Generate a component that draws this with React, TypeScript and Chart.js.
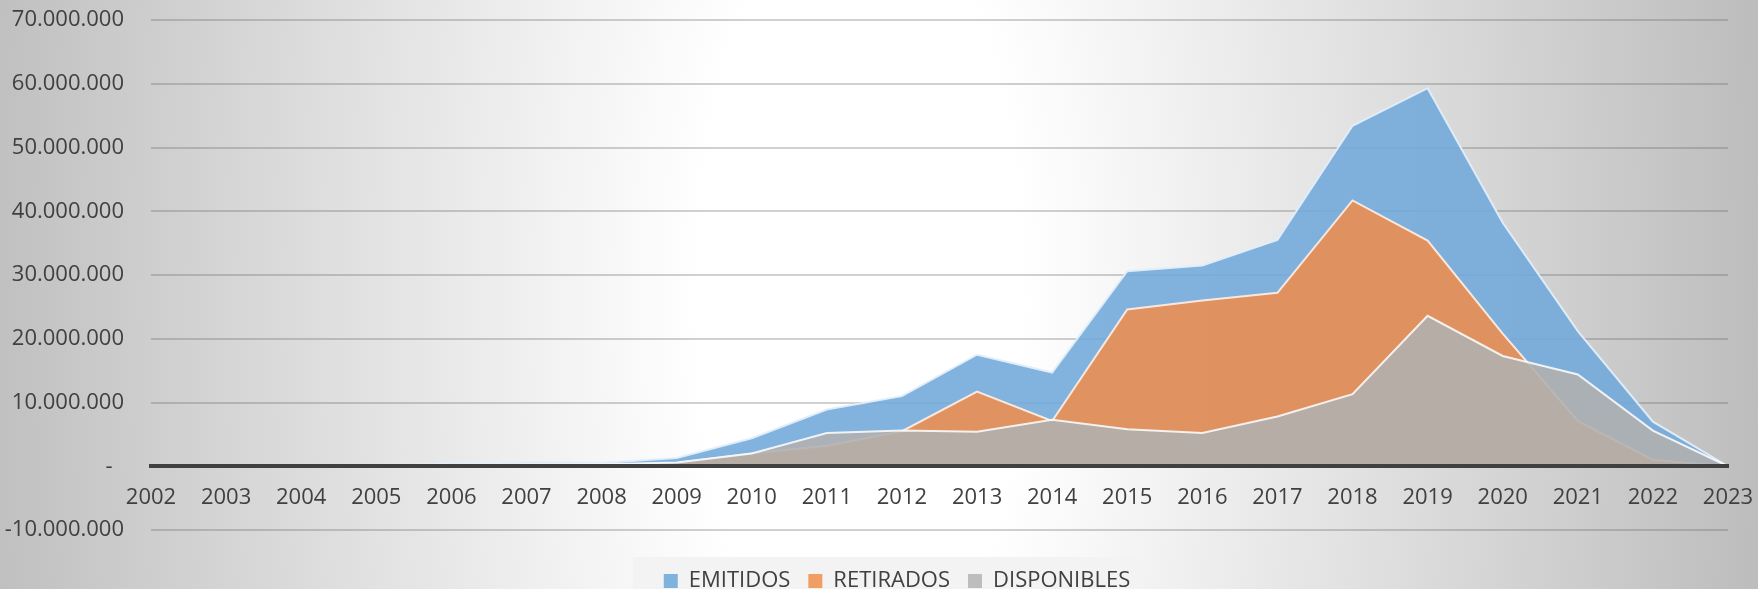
import React, { useEffect, useRef } from 'react';
import { Chart, registerables } from 'chart.js';

Chart.register(...registerables);

const years = ['2002', '2003', '2004', '2005', '2006', '2007', '2008', '2009', '2010', '2011', '2012', '2013', '2014', '2015', '2016', '2017', '2018', '2019', '2020', '2021', '2022', '2023'];

const emitidos = [0, 0, 0, 100000, 400000, 600000, 500000, 1300000, 4400000, 8900000, 11000000, 17500000, 14700000, 30600000, 31500000, 35500000, 53400000, 59300000, 38200000, 21200000, 7000000, 0];
const retirados = [0, 0, 0, 0, 100000, 200000, 200000, 500000, 2000000, 3200000, 5500000, 11700000, 7100000, 24600000, 26000000, 27200000, 41700000, 35400000, 20800000, 7100000, 1000000, 0];
const disponibles = [0, 0, 0, 0, 200000, 300000, 300000, 600000, 2000000, 5200000, 5600000, 5400000, 7300000, 5800000, 5200000, 7800000, 11300000, 23600000, 17300000, 14400000, 5600000, 0];

const seriesNames = ['EMITIDOS', 'RETIRADOS', 'DISPONIBLES'];
const yMin = -10000000;
const yMax = 70000000;
const yStep = 10000000;

const FONT = "'Open Sans', 'Noto Sans', sans-serif";
const TEXT = '#404040';

function fmt(v: number): string {
  if (v === 0) return '-  ';
  const s = Math.abs(v).toString().replace(/\B(?=(\d{3})+(?!\d))/g, '.');
  return (v < 0 ? '-' : '') + s;
}

const legendFill: Record<string, string> = {
  EMITIDOS: '#80b2de',
  RETIRADOS: '#f09e64',
  DISPONIBLES: '#bdbdbd',
};

const bgPlugin = {
  id: 'bgPlugin',
  afterLayout(chart: any) {
    const lg = chart.legend;
    if (lg) {
      lg.left += 33;
      lg.right += 33;
    }
  },
  beforeDraw(chart: any) {
    const { ctx, width, height } = chart;
    ctx.save();
    const cx = 860;
    const cy = 300;
    const sy = 2.5;
    ctx.translate(cx, cy);
    ctx.scale(1, sy);
    const g = ctx.createRadialGradient(0, 0, 0, 0, 0, 900);
    g.addColorStop(0, '#ffffff');
    g.addColorStop(0.18, '#ffffff');
    g.addColorStop(0.55, '#e2e2e2');
    g.addColorStop(1, '#bdbdbd');
    ctx.fillStyle = g;
    ctx.fillRect(-cx, -cy / sy, width, height / sy);
    ctx.restore();

    const lg = chart.legend;
    if (lg && lg.legendHitBoxes && lg.legendHitBoxes.length) {
      const hb = lg.legendHitBoxes;
      const first = hb[0];
      const last = hb[hb.length - 1];
      const left = first.left - 31;
      const right = last.left + last.width + 14;
      const top = first.top - 13;
      ctx.save();
      ctx.fillStyle = 'rgba(243,243,243,1)';
      ctx.fillRect(left, top, right - left, chart.height - top);
      ctx.restore();
    }
  },
};

export default function App() {
  const ref = useRef<HTMLCanvasElement | null>(null);

  useEffect(() => {
    if (!ref.current) return;
    const ds = [
      {
        label: seriesNames[2],
        data: disponibles,
        fill: 'origin',
        backgroundColor: 'rgba(176,176,176,0.89)',
        borderColor: 'rgba(250,250,250,0.9)',
        borderWidth: 2,
        pointRadius: 0,
        tension: 0,
      },
      {
        label: seriesNames[1],
        data: retirados,
        fill: 'origin',
        backgroundColor: 'rgba(236,141,81,0.89)',
        borderColor: 'rgba(255,240,228,0.9)',
        borderWidth: 2,
        pointRadius: 0,
        tension: 0,
      },
      {
        label: seriesNames[0],
        data: emitidos,
        fill: 'origin',
        backgroundColor: 'rgba(115,168,218,0.89)',
        borderColor: 'rgba(225,238,250,0.95)',
        borderWidth: 2,
        pointRadius: 0,
        tension: 0,
      },
    ];

    const chart = new Chart(ref.current, {
      type: 'line',
      data: { labels: years, datasets: ds as any },
      plugins: [bgPlugin],
      options: {
        responsive: false,
        animation: false,
        events: [],
        layout: { padding: { left: 0, right: 30, top: 20, bottom: 8 } },
        plugins: {
          tooltip: { enabled: false },
          legend: {
            position: 'bottom',
            reverse: true,
            title: { display: true, text: '', font: { size: 10 }, padding: 5 },
            labels: {
              boxWidth: 14,
              boxHeight: 14,
              padding: 18,
              color: TEXT,
              font: { family: FONT, size: 22 },
              generateLabels: (c: any) => {
                const items = Chart.defaults.plugins.legend.labels.generateLabels(c);
                return items.map((it: any) => ({
                  ...it,
                  fillStyle: legendFill[it.text] || it.fillStyle,
                  strokeStyle: 'rgba(0,0,0,0)',
                  lineWidth: 0,
                }));
              },
            },
          },
        },
        scales: {
          x: {
            type: 'category',
            position: { y: 0 } as any,
            offset: false,
            grid: { display: false, drawTicks: false },
            border: { display: true, color: '#404040', width: 4, z: 1 },
            ticks: {
              color: TEXT,
              font: { family: FONT, size: 22 },
              padding: 18,
              maxRotation: 0,
              autoSkip: false,
            },
            afterFit: (s: any) => {
              s.paddingLeft = 0;
              s.paddingRight = 0;
            },
          },
          y: {
            type: 'linear',
            min: yMin,
            max: yMax,
            grid: { color: 'rgba(100,100,100,0.3)', lineWidth: 2, drawTicks: false },
            border: { display: false },
            ticks: {
              stepSize: yStep,
              color: TEXT,
              font: { family: FONT, size: 22 },
              padding: 27,
              callback: (v: any) => fmt(Number(v)),
            },
            afterFit: (s: any) => {
              s.width = 151;
              s.paddingTop = 0;
              s.paddingBottom = 0;
            },
          },
        },
      } as any,
    });
    return () => chart.destroy();
  }, []);

  return (
    <div style={{ position: 'absolute', left: 0, top: 0, width: 1758, height: 589, overflow: 'hidden' }}>
      <canvas ref={ref} width={1758} height={610} style={{ width: 1758, height: 610, display: 'block' }} />
    </div>
  );
}
